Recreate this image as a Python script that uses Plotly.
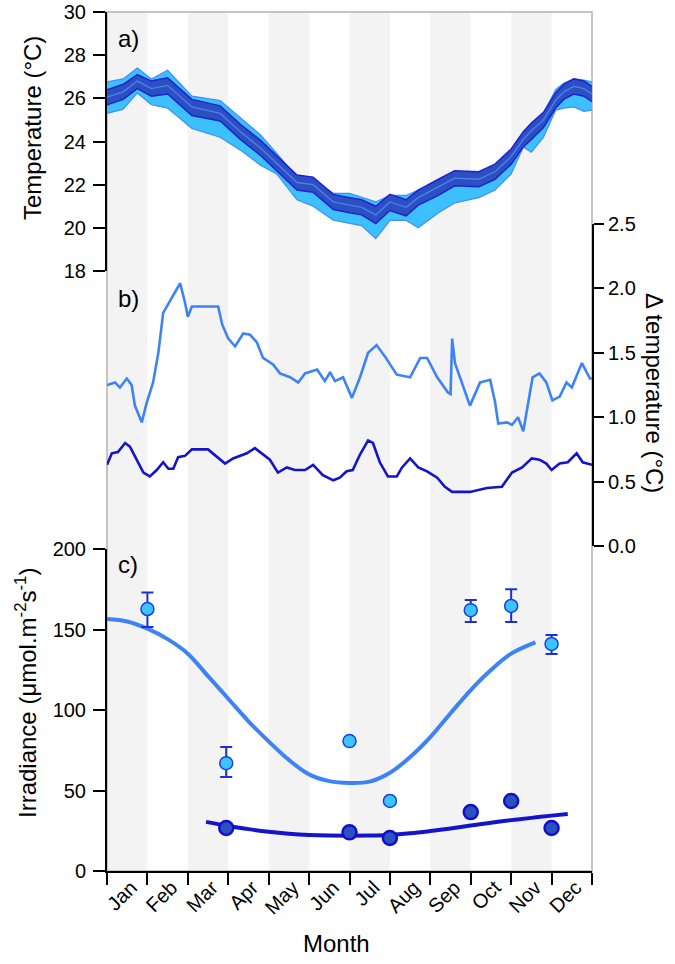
import plotly.graph_objects as go

# ---------------- data ----------------
month_labels = ["Jan", "Feb", "Mar", "Apr", "May", "Jun", "Jul", "Aug", "Sep", "Oct", "Nov", "Dec"]
month_bounds = [0, 1, 2, 3, 4, 5, 6, 7, 8, 9, 10, 11, 12]
shaded_months = [0, 2, 4, 6, 8, 10]

# panel a: temperature
temp_x = [0, 0.4, 0.75, 1.1, 1.5, 2.1, 2.8, 3.3, 3.8, 4.2, 4.7, 5.1, 5.6, 6.0, 6.3, 6.65,
          7.0, 7.4, 7.7, 8.2, 8.6, 9.2, 9.6, 10.0, 10.3, 10.5, 10.8, 11.1, 11.3, 11.55, 11.8, 12.0]
temp_mean = [26.05, 26.3, 26.8, 26.45, 26.6, 25.6, 25.3, 24.45, 23.7, 23.0, 22.1, 22.0, 21.2, 21.05, 20.95, 20.6,
             21.2, 20.95, 21.4, 21.9, 22.3, 22.25, 22.6, 23.3, 24.1, 24.5, 25.0, 25.9, 26.3, 26.55, 26.45, 26.2]
temp_inner_hi = [26.4, 26.65, 27.1, 26.8, 26.95, 25.95, 25.65, 24.8, 24.05, 23.35, 22.45, 22.35, 21.55, 21.4, 21.3, 21.0,
                 21.55, 21.3, 21.75, 22.25, 22.65, 22.6, 22.95, 23.65, 24.45, 24.85, 25.35, 26.25, 26.65, 26.9, 26.8, 26.55]
temp_inner_lo = [25.7, 25.95, 26.45, 26.1, 26.2, 25.2, 24.95, 24.1, 23.35, 22.65, 21.75, 21.65, 20.85, 20.7, 20.6, 20.2,
                 20.8, 20.55, 21.05, 21.5, 21.95, 21.9, 22.25, 22.95, 23.75, 24.1, 24.65, 25.55, 25.95, 26.2, 26.1, 25.85]
temp_outer_hi = [26.76, 26.9, 27.4, 26.9, 27.3, 26.1, 25.9, 25.1, 24.3, 23.45, 22.35, 22.2, 21.6, 21.6, 21.4, 21.2,
                 21.5, 21.5, 21.75, 22.1, 22.5, 22.6, 22.8, 23.6, 24.4, 24.7, 25.3, 26.4, 26.7, 26.9, 26.85, 26.76]
temp_outer_lo = [25.3, 25.5, 26.25, 25.7, 25.55, 24.6, 24.2, 23.6, 22.9, 22.5, 21.3, 21.0, 20.35, 20.2, 20.1, 19.5,
                 20.35, 20.35, 20.0, 20.7, 21.15, 21.4, 21.75, 22.5, 23.75, 23.5, 24.2, 25.45, 25.55, 25.6, 25.4, 25.45]

# panel b: delta temperature
dlight_x = [0, 0.2, 0.32, 0.49, 0.61, 0.69, 0.86, 0.98, 1.14, 1.27, 1.39, 1.56, 1.68, 1.81, 1.93, 2.0, 2.1,
            2.75, 2.85, 3.0, 3.17, 3.37, 3.54, 3.71, 3.86, 4.11, 4.28, 4.53, 4.73, 4.9, 5.2, 5.39, 5.52, 5.64,
            5.84, 6.06, 6.26, 6.46, 6.67, 6.88, 7.17, 7.5, 7.75, 7.92, 8.17, 8.44, 8.5, 8.54, 8.61, 8.78, 8.98,
            9.23, 9.48, 9.6, 9.68, 9.9, 10.02, 10.17, 10.3, 10.53, 10.7, 10.87, 11.02, 11.2, 11.37, 11.5, 11.75, 11.95, 12.0]
dlight_y = [1.25, 1.27, 1.23, 1.30, 1.25, 1.09, 0.96, 1.11, 1.27, 1.50, 1.81, 1.90, 1.97, 2.04, 1.89, 1.78, 1.86,
            1.86, 1.72, 1.61, 1.55, 1.65, 1.64, 1.58, 1.46, 1.41, 1.34, 1.31, 1.27, 1.34, 1.37, 1.28, 1.35, 1.28,
            1.31, 1.15, 1.31, 1.50, 1.56, 1.47, 1.33, 1.31, 1.46, 1.46, 1.31, 1.19, 1.18, 1.61, 1.42, 1.27, 1.09,
            1.27, 1.29, 1.12, 0.95, 0.96, 0.94, 1.00, 0.89, 1.31, 1.34, 1.27, 1.13, 1.16, 1.27, 1.23, 1.42, 1.30, 1.30]
ddark_x = [0, 0.12, 0.27, 0.45, 0.57, 0.74, 0.9, 1.06, 1.23, 1.39, 1.52, 1.64, 1.76, 1.93, 2.1, 2.5, 2.72,
           2.92, 3.12, 3.46, 3.66, 3.86, 4.03, 4.23, 4.45, 4.65, 4.9, 5.1, 5.34, 5.6, 5.76, 5.93, 6.08, 6.26,
           6.46, 6.58, 6.75, 6.95, 7.17, 7.3, 7.5, 7.7, 7.92, 8.17, 8.36, 8.54, 8.98, 9.4, 9.77, 10.02, 10.27,
           10.51, 10.7, 10.87, 11.0, 11.2, 11.4, 11.62, 11.77, 12.0]
ddark_y = [0.63, 0.72, 0.73, 0.80, 0.77, 0.67, 0.57, 0.54, 0.59, 0.65, 0.60, 0.60, 0.69, 0.70, 0.75, 0.75, 0.69,
           0.64, 0.68, 0.72, 0.76, 0.71, 0.67, 0.57, 0.61, 0.59, 0.59, 0.63, 0.55, 0.51, 0.53, 0.58, 0.59, 0.71,
           0.82, 0.80, 0.65, 0.54, 0.54, 0.61, 0.68, 0.61, 0.58, 0.53, 0.46, 0.42, 0.42, 0.45, 0.46, 0.57, 0.61,
           0.68, 0.67, 0.64, 0.59, 0.64, 0.65, 0.72, 0.65, 0.63]

# panel c: irradiance
irr_light_x = [1.0, 2.95, 6.0, 7.0, 9.0, 10.0, 11.0]
irr_light_y = [162.7, 67.0, 80.7, 43.5, 162.0, 164.6, 141.0]
irr_light_err_plus = [10.3, 10.0, 0, 0, 6.3, 10.4, 5.6]
irr_light_err_minus = [11.2, 8.6, 0, 0, 7.3, 9.9, 6.2]
irr_dark_x = [2.95, 6.0, 7.0, 9.0, 10.0, 11.0]
irr_dark_y = [26.7, 24.0, 20.5, 36.6, 43.5, 26.7]

fit_light_x = [0, 0.5, 1.0, 1.5, 2.0, 2.5, 3.0, 3.5, 4.0, 4.5, 5.0, 5.5, 6.0, 6.5, 7.0, 7.5, 8.0, 8.5,
               9.0, 9.5, 10.0, 10.6]
fit_light_y = [156.5, 155.0, 150.5, 144.0, 135.0, 121.0, 107.0, 93.0, 80.5, 69.0, 60.0, 55.8, 54.7, 55.5,
               61.0, 70.8, 83.2, 98.0, 112.4, 124.8, 135.0, 142.0]
fit_dark_x = [2.45, 3.0, 3.5, 4.0, 4.5, 5.0, 5.5, 6.0, 6.5, 7.0, 7.5, 8.0, 8.5, 9.0, 9.5, 10.0, 10.5, 11.0, 11.4]
fit_dark_y = [30.5, 28.0, 26.0, 24.4, 23.2, 22.4, 22.0, 21.9, 22.0, 22.4, 23.4, 24.8, 26.4, 28.2, 30.0, 31.6, 33.0, 34.4, 35.4]

# ---------------- figure ----------------
FONT = "Liberation Sans, Arial, sans-serif"
W, H = 675, 964
PLOT_L, PLOT_R, PLOT_T, PLOT_B = 107, 592, 12, 871   # target plot box in page pixels
ML, MR, MT, MB = PLOT_L, W - PLOT_R, PLOT_T, H - PLOT_B
PW = PLOT_R - PLOT_L
PH = PLOT_B - PLOT_T


def py(y):  # page pixel y -> paper y
    return (PLOT_B - y) / PH


def px(x):  # page pixel x -> paper x
    return (x - PLOT_L) / PW


OUT_FILL = "#3cc0ff"
OUT_EDGE = "#3f8cff"
IN_FILL = "#2d50c0"
IN_EDGE = "#1c22d8"
MEAN_COL = "#4d80f4"
LIGHT = "#3d83f5"
DARK = "#1414cc"

fig = go.Figure()

# panel a
fig.add_trace(go.Scatter(x=temp_x, y=temp_outer_lo, mode="lines", line=dict(color=OUT_EDGE, width=1.2),
                         yaxis="y", xaxis="x", hoverinfo="skip", showlegend=False))
fig.add_trace(go.Scatter(x=temp_x, y=temp_outer_hi, mode="lines", line=dict(color=OUT_EDGE, width=1.2),
                         fill="tonexty", fillcolor=OUT_FILL, yaxis="y", xaxis="x", showlegend=False))
fig.add_trace(go.Scatter(x=temp_x, y=temp_inner_lo, mode="lines", line=dict(color=IN_EDGE, width=1.5),
                         yaxis="y", xaxis="x", showlegend=False))
fig.add_trace(go.Scatter(x=temp_x, y=temp_inner_hi, mode="lines", line=dict(color=IN_EDGE, width=1.5),
                         fill="tonexty", fillcolor=IN_FILL, yaxis="y", xaxis="x", showlegend=False))
fig.add_trace(go.Scatter(x=temp_x, y=temp_mean, mode="lines", line=dict(color=MEAN_COL, width=1.3),
                         yaxis="y", xaxis="x", showlegend=False))

# panel b
fig.add_trace(go.Scatter(x=dlight_x, y=dlight_y, mode="lines", line=dict(color=LIGHT, width=2.6),
                         yaxis="y2", xaxis="x", showlegend=False))
fig.add_trace(go.Scatter(x=ddark_x, y=ddark_y, mode="lines", line=dict(color=DARK, width=2.6),
                         yaxis="y2", xaxis="x", showlegend=False))

# panel c
fig.add_trace(go.Scatter(x=fit_light_x, y=fit_light_y, mode="lines", line=dict(color=LIGHT, width=4, shape="spline"),
                         yaxis="y3", xaxis="x", showlegend=False))
fig.add_trace(go.Scatter(x=fit_dark_x, y=fit_dark_y, mode="lines", line=dict(color=DARK, width=4, shape="spline"),
                         yaxis="y3", xaxis="x", showlegend=False))
fig.add_trace(go.Scatter(x=irr_dark_x, y=irr_dark_y, mode="markers",
                         marker=dict(size=14, color="#2d50c0", line=dict(color="#1010cc", width=2.5)),
                         yaxis="y3", xaxis="x", showlegend=False))
fig.add_trace(go.Scatter(x=irr_light_x, y=irr_light_y, mode="markers",
                         marker=dict(size=13, color="#3cc4ff", line=dict(color="#1a3fe0", width=1.5)),
                         error_y=dict(type="data", array=irr_light_err_plus, arrayminus=irr_light_err_minus,
                                      color="#1a2fd8", thickness=2, width=6),
                         yaxis="y3", xaxis="x", showlegend=False))
# dummy for label axis
fig.add_trace(go.Scatter(x=[0], y=[0], mode="markers", marker=dict(opacity=0), xaxis="x2", yaxis="y3",
                         hoverinfo="skip", showlegend=False))

shapes = []
for m in shaded_months:
    shapes.append(dict(type="rect", xref="x", yref="paper", x0=m, x1=m + 1, y0=0, y1=1,
                       fillcolor="#f3f3f3", line=dict(width=0), layer="below"))
shapes.append(dict(type="rect", xref="paper", yref="paper", x0=0, x1=1, y0=0, y1=1,
                   line=dict(color="#c4c4c4", width=2), fillcolor="rgba(0,0,0,0)", layer="below"))

tickfont = dict(family=FONT, size=20, color="black")
axis_common = dict(showgrid=False, zeroline=False, showline=True, linecolor="black", linewidth=2,
                   ticks="outside", tickwidth=2, tickcolor="black", tickfont=tickfont, fixedrange=True,
                   automargin=False, ticklabeloverflow="allow")

label_pos = [b + 0.6 for b in month_bounds[:-1]]

fig.update_layout(
    width=W, height=H,
    margin=dict(l=ML, r=MR, t=MT, b=MB, pad=0, autoexpand=False),
    paper_bgcolor="white", plot_bgcolor="rgba(0,0,0,0)",
    font=dict(family=FONT, color="black"),
    showlegend=False,
    shapes=shapes,
    xaxis=dict(domain=[0, 1], range=[0, 12], anchor="y3", tickvals=month_bounds,
               showticklabels=False, ticklen=12, **axis_common),
    xaxis2=dict(overlaying="x", anchor="y3", side="bottom", range=[0, 12], tickvals=label_pos,
                ticktext=month_labels, tickangle=-45, ticks="", ticklen=0,
                showline=False, showgrid=False, zeroline=False,
                tickfont=tickfont, fixedrange=True, automargin=False, ticklabeloverflow="allow"),
    yaxis=dict(domain=[py(271), py(12)], range=[18, 30], dtick=2, tick0=18, anchor="x", side="left",
               ticklen=12, ticklabelstandoff=3, **axis_common),
    yaxis2=dict(domain=[py(546), py(224)], range=[0, 2.5], dtick=0.5, tick0=0, tickformat=".1f",
                anchor="x", side="right", ticklen=10, **axis_common),
    yaxis3=dict(domain=[0, py(549)], range=[0, 200], dtick=50, tick0=0, anchor="x", side="left",
                ticklen=12, ticklabelstandoff=3, **axis_common),
)

ann_font = dict(family=FONT, size=24, color="black")
panel_font = dict(family=FONT, size=24, color="black")
annotations = [
    dict(text="a)", x=px(116), y=py(23), xref="paper", yref="paper", xanchor="left", yanchor="top",
         showarrow=False, font=panel_font),
    dict(text="b)", x=px(116), y=py(283), xref="paper", yref="paper", xanchor="left", yanchor="top",
         showarrow=False, font=panel_font),
    dict(text="c)", x=px(116), y=py(549), xref="paper", yref="paper", xanchor="left", yanchor="top",
         showarrow=False, font=panel_font),
    dict(text="Temperature (°C)", x=px(32), y=py(128), xref="paper", yref="paper", xanchor="center",
         yanchor="middle", textangle=-90, showarrow=False, font=ann_font),
    dict(text="Irradiance (μmol.m<sup>-2</sup>s<sup>-1</sup>)", x=px(26), y=py(693), xref="paper", yref="paper",
         xanchor="center", yanchor="middle", textangle=-90, showarrow=False, font=ann_font),
    dict(text="Δ temperature (°C)", x=px(655), y=py(393), xref="paper", yref="paper", xanchor="center",
         yanchor="middle", textangle=90, showarrow=False, font=ann_font),
    dict(text="Month", x=px(336), y=py(943), xref="paper", yref="paper", xanchor="center",
         yanchor="middle", showarrow=False, font=ann_font),
]
fig.update_layout(annotations=annotations)

fig.write_html("out.html", config={"displayModeBar": False},
               post_script="document.body.style.margin='0';")
